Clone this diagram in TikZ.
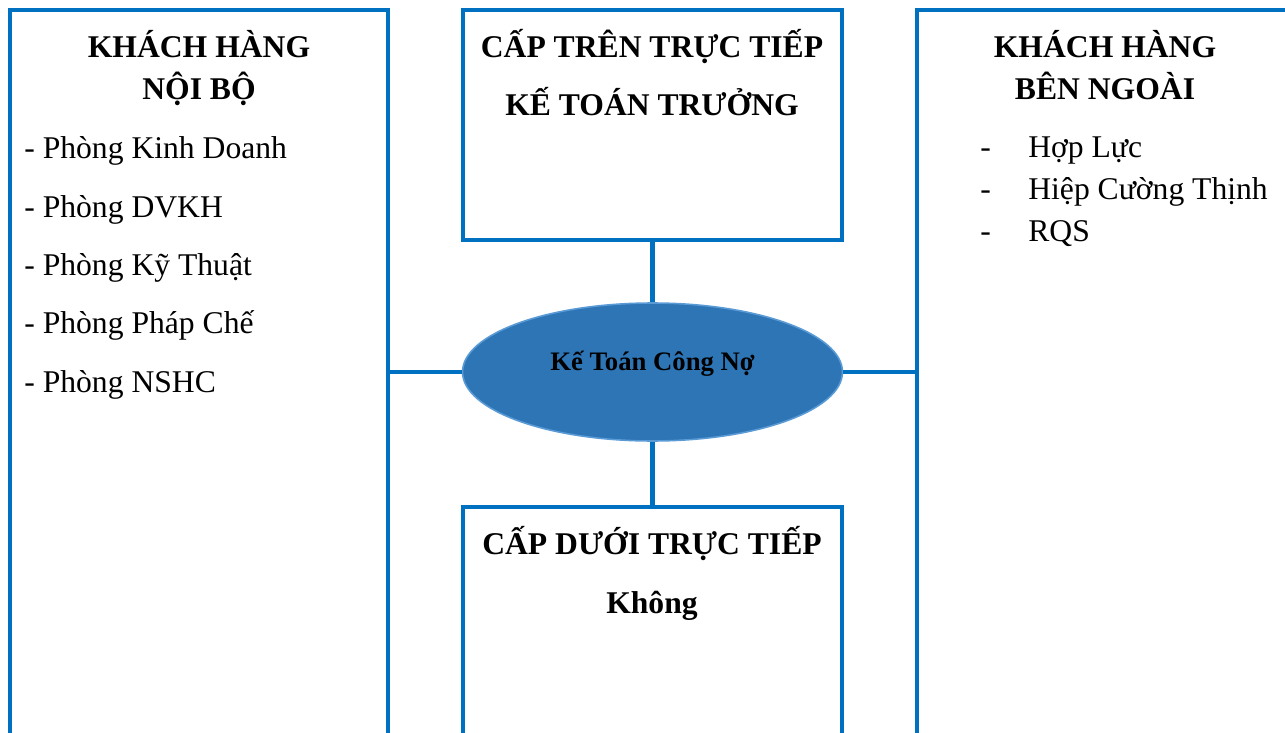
\documentclass[tikz,border=0pt]{standalone}
\usepackage{fontspec}
\setmainfont{Liberation Serif}
\usetikzlibrary{shapes.geometric,fit}
\definecolor{boxblue}{HTML}{0070C0}
\definecolor{ovalblue}{HTML}{2E75B6}
\definecolor{ovalrim}{HTML}{5B9BD5}
\begin{document}
\begin{tikzpicture}[x=0.02cm,y=-0.02cm,
    box/.style={draw=boxblue,line width=2.3pt,inner sep=0pt},
    link/.style={draw=boxblue,line width=2.3pt},
    head/.style={font=\fontsize{18}{22}\selectfont\bfseries,anchor=base,inner sep=0pt},
    item/.style={font=\fontsize{18}{22}\selectfont,anchor=base west,inner sep=0pt}]
  \useasboundingbox (0,0) rectangle (1285,733);
  \clip (0,0) rectangle (1285,733);
  % boxes (three of them run off the page)
  \node[box,fit={(10,10) (388,780)}] (noibo) {};
  \node[box,fit={(463,10) (842,240)}] (tren) {};
  \node[box,fit={(463,507) (842,780)}] (duoi) {};
  \node[box,fit={(917,10) (1330,780)}] (ngoai) {};
  \node[ellipse,fill=ovalblue,draw=ovalrim,line width=0.9pt,inner sep=0pt,
    minimum width=7.6cm,minimum height=2.76cm,text height=0.36cm,text depth=0.44cm,
    font=\fontsize{15.2}{18}\selectfont\bfseries] (ktcn) at (652.5,372) {Kế Toán Công Nợ};
  % connectors
  \draw[link] (tren.south) -- (ktcn.north);
  \draw[link] (ktcn.south) -- (duoi.north);
  \draw[link] (ktcn.west) -- (ktcn.west -| noibo.east);
  \draw[link] (ktcn.east) -- (ktcn.east -| ngoai.west);
  % left box
  \node[head] (noibo1) at (199,58) {KHÁCH HÀNG};
  \node[head] (noibo2) at (199,100) {NỘI BỘ};
  \foreach \t [count=\i from 0] in {Kinh Doanh,DVKH,Kỹ Thuật,Pháp Chế,NSHC}
    \node[item] (phong\i) at (24,159+58.3*\i) {- Phòng \t};
  % middle boxes
  \node[head] (tren1) at (652,58) {CẤP TRÊN TRỰC TIẾP};
  \node[head] (tren2) at (652,116) {KẾ TOÁN TRƯỞNG};
  \node[head] (duoi1) at (652,554) {CẤP DƯỚI TRỰC TIẾP};
  \node[head] (duoi2) at (652,613) {Không};
  % right box
  \node[head] (ngoai1) at (1105,58) {KHÁCH HÀNG};
  \node[head] (ngoai2) at (1105,100) {BÊN NGOÀI};
  \foreach \t [count=\i from 0] in {Hợp Lực,Hiệp Cường Thịnh,RQS} {
    \node[item] (gach\i) at (980,158+42*\i) {-};
    \node[item] (khach\i) at (1028,158+42*\i) {\t};
  }
\end{tikzpicture}
\end{document}
